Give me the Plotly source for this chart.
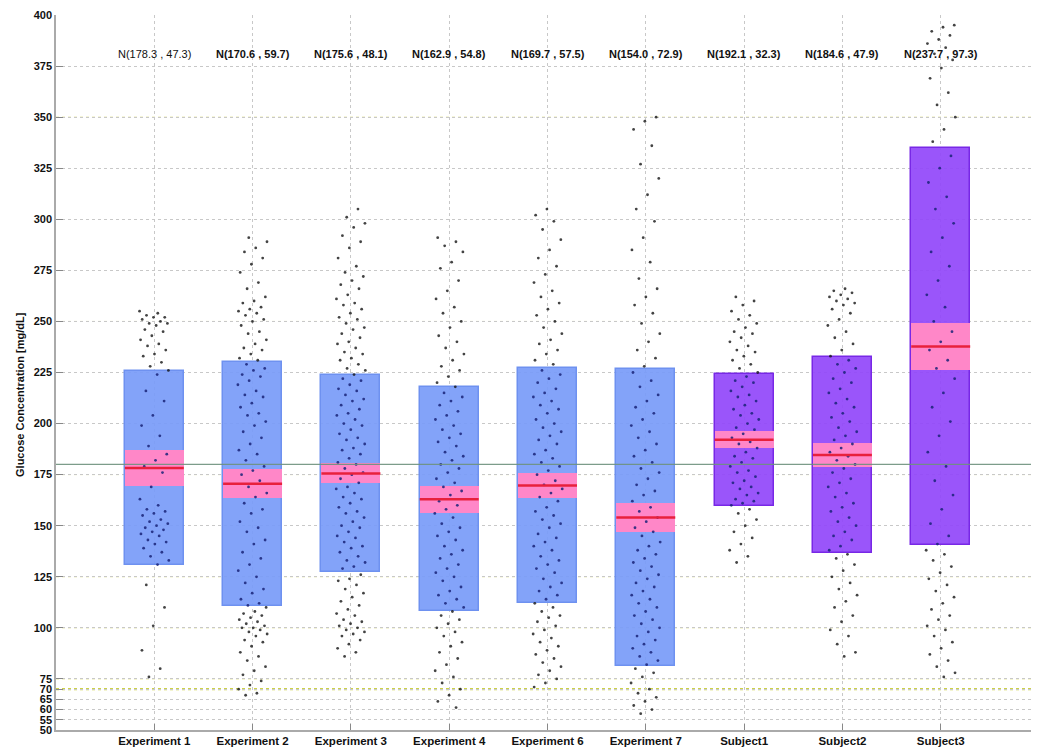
import plotly.graph_objects as go

categories = ["Experiment 1", "Experiment 2", "Experiment 3", "Experiment 4", "Experiment 6",
              "Experiment 7", "Subject1", "Subject2", "Subject3"]
means = [178.3, 170.6, 175.6, 162.9, 169.7, 154.0, 192.1, 184.6, 237.7]
sds = [47.3, 59.7, 48.1, 54.8, 57.5, 72.9, 32.3, 47.9, 97.3]
ci_half = [9.0, 7.1, 4.9, 6.7, 6.0, 7.3, 4.1, 5.9, 11.3]
kinds = ["exp", "exp", "exp", "exp", "exp", "exp", "subj", "subj", "subj"]

ytick_vals = [50, 55, 60, 65, 70, 75, 100, 125, 150, 175, 200, 225, 250, 275, 300, 325, 350, 375, 400]
hyper_threshold = 180
hypo_threshold = 70
yellow_grid = [75, 100, 125, 175, 225, 250, 350]

exp1 = [255, 254, 253, 252, 252, 251, 250, 249, 249, 248, 246, 245, 243, 241, 239, 238, 236, 234, 233,
        230, 228, 226, 224, 216, 211, 204, 199, 194, 189, 185, 182, 179, 176, 169, 163, 160, 158, 157,
        156, 155, 153, 152, 151, 150, 149, 148, 147, 146, 145, 143, 142, 141, 139, 137, 135, 133, 131,
        121, 110, 101, 89, 80, 76]
exp2 = [291, 289, 286, 284, 281, 278, 274, 269, 266, 262, 260, 259, 257, 256, 255, 254, 253, 251, 250,
        248, 245, 244, 241, 239, 237, 236, 234, 232, 231, 229, 227, 226, 224, 223, 221, 219, 216, 214,
        213, 210, 208, 205, 204, 201, 199, 196, 193, 190, 187, 185, 182, 179, 177, 175, 172, 169, 166,
        164, 161, 158, 156, 152, 149, 147, 143, 141, 137, 134, 131, 128, 125, 122, 119, 117, 114, 112,
        111, 110, 108, 107, 106, 105, 104, 103, 102, 101, 100, 100, 99, 98, 97, 96, 94, 93, 91, 88,
        86, 84, 81, 79, 77, 74, 72, 70, 68, 67]
exp3 = [305, 301, 298, 296, 292, 289, 286, 281, 277, 274, 272, 270, 268, 266, 263, 261, 259, 258, 256,
        254, 252, 251, 249, 247, 246, 244, 242, 240, 239, 237, 235, 234, 232, 231, 229, 227, 226, 224,
        222, 221, 219, 217, 216, 214, 212, 211, 209, 207, 205, 204, 202, 200, 199, 197, 195, 193, 192,
        190, 188, 187, 185, 183, 181, 180, 178, 176, 175, 173, 171, 169, 168, 166, 164, 163, 161, 159,
        157, 156, 154, 152, 150, 149, 147, 145, 144, 142, 140, 139, 137, 135, 133, 132, 130, 129, 126,
        124, 123, 121, 119, 117, 115, 113, 111, 109, 107, 106, 104, 103, 102, 101, 100, 99, 98, 97,
        96, 94, 92, 90, 88, 86]
exp4 = [291, 289, 287, 284, 279, 276, 270, 265, 261, 257, 254, 250, 247, 243, 240, 237, 234, 231, 228,
        226, 223, 220, 218, 215, 213, 211, 209, 206, 204, 202, 199, 197, 195, 193, 191, 189, 186, 184,
        182, 180, 178, 176, 173, 171, 169, 167, 165, 162, 160, 158, 156, 154, 151, 149, 147, 145, 143,
        140, 138, 136, 134, 131, 129, 127, 125, 123, 120, 118, 116, 114, 112, 110, 108, 106, 104, 102,
        100, 98, 96, 93, 91, 88, 85, 82, 79, 76, 73, 70, 67, 64, 61]
exp6 = [305, 302, 299, 295, 290, 285, 281, 277, 273, 269, 265, 262, 259, 256, 253, 250, 247, 244, 241,
        239, 236, 234, 231, 229, 226, 224, 222, 220, 217, 215, 213, 211, 209, 207, 205, 202, 200, 198,
        196, 194, 192, 190, 187, 185, 183, 181, 179, 177, 175, 172, 170, 168, 166, 164, 162, 159, 157,
        155, 153, 151, 149, 146, 144, 142, 140, 138, 135, 133, 131, 129, 127, 124, 122, 120, 118, 116,
        114, 112, 110, 108, 106, 105, 103, 101, 99, 97, 95, 93, 91, 89, 87, 85, 83, 81, 79, 77, 75, 73, 71]
exp7 = [350, 348, 344, 336, 327, 320, 312, 305, 299, 291, 285, 279, 271, 266, 262, 258, 254, 249, 244,
        240, 236, 232, 228, 225, 221, 218, 214, 211, 208, 205, 202, 199, 196, 193, 190, 187, 184, 181,
        178, 176, 173, 170, 167, 165, 162, 159, 157, 154, 152, 149, 147, 145, 142, 140, 138, 136, 134,
        132, 130, 128, 126, 124, 122, 120, 118, 116, 114, 112, 110, 108, 106, 104, 102, 100, 98, 96,
        94, 92, 90, 88, 86, 84, 82, 80, 78, 76, 73, 70, 68, 66, 64, 62, 60, 58]
subj1 = [262, 260, 258, 255, 253, 251, 249, 247, 245, 244, 242, 240, 238, 236, 235, 233, 231, 229, 227,
         225, 223, 221, 220, 218, 216, 214, 213, 211, 209, 207, 205, 204, 202, 200, 198, 197, 195, 193,
         191, 190, 188, 186, 184, 183, 181, 179, 177, 176, 174, 172, 171, 169, 168, 166, 165, 163, 162,
         161, 160, 158, 156, 153, 150, 147, 144, 141, 138, 135, 132]
subj2 = [266, 265, 264, 263, 262, 261, 260, 259, 258, 256, 254, 251, 248, 245, 242, 239, 236, 233, 231,
         229, 227, 225, 222, 220, 217, 215, 212, 210, 208, 205, 203, 201, 198, 196, 194, 192, 190, 188,
         186, 184, 182, 180, 178, 176, 173, 171, 169, 166, 164, 161, 159, 157, 154, 152, 150, 147, 145,
         143, 140, 138, 136, 134, 131, 128, 125, 122, 119, 116, 113, 110, 106, 103, 99, 96, 92, 88, 86]
subj3 = [395, 394, 392, 390, 388, 386, 384, 381, 378, 374, 369, 362, 356, 350, 344, 338, 331, 325, 318,
         311, 305, 298, 291, 284, 277, 270, 263, 257, 250, 245, 240, 236, 231, 227, 222, 215, 208, 201,
         194, 186, 179, 172, 165, 158, 151, 145, 141, 138, 136, 133, 130, 127, 124, 121, 118, 115, 112,
         109, 106, 104, 101, 99, 96, 93, 90, 87, 84, 81, 78, 76]
samples = [exp1, exp2, exp3, exp4, exp6, exp7, subj1, subj2, subj3]

box_colors = {"exp": "rgba(120,155,248,0.92)", "subj": "rgba(145,70,250,0.92)"}
box_edges = {"exp": "rgba(110,145,240,1)", "subj": "rgba(120,40,230,1)"}

xs = list(range(1, len(categories) + 1))
fig = go.Figure()

# SD boxes
fig.add_trace(go.Bar(
    x=xs, y=[2 * s for s in sds], base=[m - s for m, s in zip(means, sds)], width=0.6,
    marker=dict(color=[box_colors[k] for k in kinds],
                line=dict(color=[box_edges[k] for k in kinds], width=1.5)),
    showlegend=False, hoverinfo="skip"))
# 95% CI boxes
fig.add_trace(go.Bar(
    x=xs, y=[2 * c for c in ci_half], base=[m - c for m, c in zip(means, ci_half)], width=0.6,
    marker=dict(color="rgba(255,135,200,1)", line=dict(width=0)),
    showlegend=False, hoverinfo="skip"))

# jittered points
px, py, pc = [], [], []
for j, vals in enumerate(samples):
    lo, hi = means[j] - sds[j], means[j] + sds[j]
    for k, v in enumerate(vals):
        off = (((k * 0.6180339887) + 0.37 * j) % 1.0 - 0.5) * 0.3
        px.append(xs[j] + off)
        py.append(v)
        pc.append("rgba(25,35,120,0.85)" if lo <= v <= hi else "rgba(20,20,20,0.8)")
fig.add_trace(go.Scatter(x=px, y=py, mode="markers",
                         marker=dict(size=2.8, color=pc, line=dict(width=0)),
                         showlegend=False, hoverinfo="skip"))

# mean lines
mx, my = [], []
for x, m in zip(xs, means):
    mx += [x - 0.3, x + 0.3, None]
    my += [m, m, None]
fig.add_trace(go.Scatter(x=mx, y=my, mode="lines", line=dict(color="#e8203c", width=2.5),
                         showlegend=False, hoverinfo="skip"))

# reference lines
for yv in yellow_grid:
    fig.add_hline(y=yv, line=dict(color="rgba(228,228,150,1)", width=1, dash="dot"), layer="below")
fig.add_hline(y=hypo_threshold, line=dict(color="rgba(205,210,70,1)", width=2.2, dash="dot"), layer="below")
fig.add_hline(y=hyper_threshold, line=dict(color="rgba(110,145,125,0.9)", width=1.2), layer="above")

# N labels
for x, m, s, j in zip(xs, means, sds, range(len(xs))):
    fig.add_annotation(x=x, y=381, xref="x", yref="y", showarrow=False,
                       text=f"N({m:.1f} , {s:.1f})",
                       font=dict(family="Liberation Sans", size=11, color="#111",
                                 weight="normal" if j == 0 else "bold"))

fig.add_annotation(xref="paper", x=0, xshift=-44, yref="y", y=214, showarrow=False,
                   text="Glucose Concentration [mg/dL]", textangle=-90,
                   font=dict(family="Liberation Sans", size=11, color="#111", weight="bold"))

# the page adds an 8px body margin, so the figure is sized to fit the window
fig.update_layout(
    width=1031, height=743, margin=dict(l=48, r=0, t=7, b=21),
    plot_bgcolor="white", paper_bgcolor="white", barmode="overlay", bargap=0,
    xaxis=dict(range=[0, 10], tickvals=xs, ticktext=categories, ticks="inside", ticklen=6,
               tickcolor="#888", showline=True, linecolor="#aaa", linewidth=1.5,
               showgrid=True, gridcolor="#c8c8c8", griddash="dot", gridwidth=1, zeroline=False,
               ticklabelstandoff=-1,
               tickfont=dict(family="Liberation Sans", size=11.5, color="#111", weight="bold")),
    yaxis=dict(range=[50, 400], tickvals=ytick_vals, ticks="inside", ticklen=7, tickcolor="#888",
               showline=True, linecolor="#aaa", linewidth=1.5, showgrid=True, gridcolor="#c8c8c8",
               griddash="dot", gridwidth=1, zeroline=False,
               tickfont=dict(family="Liberation Sans", size=11, color="#111", weight="bold")),
)

fig.write_html("out.html")
